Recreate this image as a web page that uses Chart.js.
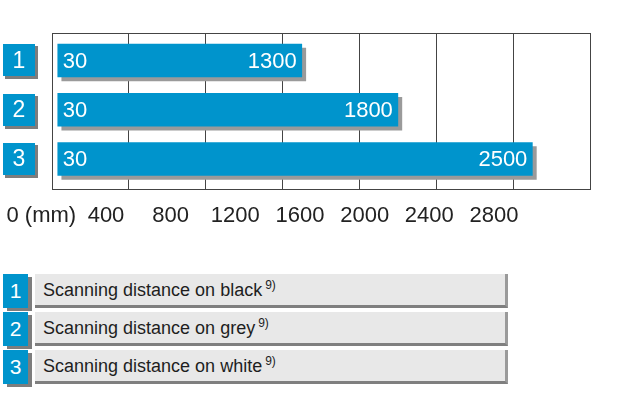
<!DOCTYPE html>
<html>
<head>
<meta charset="utf-8">
<script src="https://cdn.jsdelivr.net/npm/chart.js@4"></script>
<style>
  html, body { margin: 0; padding: 0; background: #fff; }
  body { width: 620px; height: 420px; position: relative; overflow: hidden; font-family: "Liberation Sans", Arial, sans-serif; }
  #wrap { position: absolute; left: 0; top: 0; width: 620px; height: 240px; }
  #c { display: block; }
  .lrow { position: absolute; left: 0; height: 34px; width: 510px; }
  .lbadge { position: absolute; left: 3px; top: 0; width: 25px; height: 34px; background: #0094cc; color: #fff;
            font-size: 21px; line-height: 34px; text-align: center; box-shadow: 4px 3px 0 #7d7d7d; }
  .lbox { position: absolute; left: 35px; top: 0; width: 462px; height: 31px; background: #e8e8e8;
          border-bottom: 3px solid #7f7f7f; border-right: 3px solid #9a9a9a; color: #1e1e1e;
          font-size: 18px; line-height: 33px; padding-left: 8px; box-sizing: content-box; }
  .lbox sup { font-size: 12px; vertical-align: 0; position: relative; top: -7px; margin-left: 3px; }
</style>
</head>
<body>
<div id="wrap"><canvas id="c" width="620" height="240"></canvas></div>
<div id="legend"></div>
<script>
// ---- data ----
const categories = ['1', '2', '3'];
const seriesNames = ['Scanning distance on black', 'Scanning distance on grey', 'Scanning distance on white'];
const footnote = '9)';
const starts = [30, 30, 30];
const ends = [1300, 1800, 2500];
const tickValues = [0, 400, 800, 1200, 1600, 2000, 2400, 2800];
const tickLabels = ['0 (mm)', '400', '800', '1200', '1600', '2000', '2400', '2800'];

const BLUE = '#0094cc';
const FONT = '"Liberation Sans", Arial, sans-serif';

// legend (HTML)
const legendTops = [274, 312, 350];
const lg = document.getElementById('legend');
categories.forEach((c, i) => {
  const row = document.createElement('div');
  row.className = 'lrow';
  row.style.top = legendTops[i] + 'px';
  const b = document.createElement('div'); b.className = 'lbadge'; b.textContent = c;
  const t = document.createElement('div'); t.className = 'lbox';
  t.appendChild(document.createTextNode(seriesNames[i]));
  const s = document.createElement('sup'); s.textContent = footnote; t.appendChild(s);
  row.appendChild(b); row.appendChild(t); lg.appendChild(row);
});

const decor = {
  id: 'decor',
  beforeDatasetsDraw(chart) {
    const {ctx, chartArea: a} = chart;
    ctx.save();
    ctx.strokeStyle = '#444';
    ctx.lineWidth = 1;
    ctx.strokeRect(Math.round(a.left) + 0.5, Math.round(a.top) + 0.5, Math.round(a.right - a.left), Math.round(a.bottom - a.top));
    ctx.restore();
    ctx.save();
    ctx.shadowColor = '#9a9a9a';
    ctx.shadowOffsetX = 4;
    ctx.shadowOffsetY = 4;
    ctx.shadowBlur = 0;
  },
  afterDatasetsDraw(chart) {
    const ctx = chart.ctx;
    ctx.restore();
    const meta = chart.getDatasetMeta(0);
    ctx.save();
    ctx.fillStyle = '#fff';
    ctx.font = '22px ' + FONT;
    ctx.textBaseline = 'middle';
    meta.data.forEach((el, i) => {
      const p = el.getProps(['x', 'y', 'base'], true);
      ctx.textAlign = 'left';
      ctx.fillText(String(starts[i]), p.base + 5, p.y + 1);
      ctx.textAlign = 'right';
      ctx.fillText(String(ends[i]), p.x - 5, p.y + 1);
    });
    ctx.restore();
  },
  afterDraw(chart) {
    const ctx = chart.ctx;
    const ys = chart.scales.y;
    ctx.save();
    categories.forEach((c, i) => {
      const y = ys.getPixelForValue(i);
      const top = Math.round(y - 16);
      ctx.fillStyle = '#7d7d7d';
      ctx.fillRect(5, top + 2, 33, 33);
      ctx.fillStyle = BLUE;
      ctx.fillRect(3, top, 32, 32);
      ctx.fillStyle = '#fff';
      ctx.font = '23px ' + FONT;
      ctx.textAlign = 'center';
      ctx.textBaseline = 'middle';
      ctx.fillText(c, 19, y + 1);
    });
    ctx.restore();
  }
};

new Chart(document.getElementById('c'), {
  type: 'bar',
  data: {
    datasets: [{
      data: categories.map((c, i) => ({x: [starts[i], ends[i]], y: i})),
      backgroundColor: BLUE,
      borderWidth: 0,
      barThickness: 33
    }]
  },
  options: {
    indexAxis: 'y',
    responsive: false,
    animation: false,
    events: [],
    layout: { padding: { left: 52, right: 30, top: 33, bottom: 6 } },
    plugins: { legend: { display: false }, tooltip: { enabled: false } },
    scales: {
      x: {
        type: 'linear', position: 'bottom', min: 0, max: 2800,
        ticks: { display: false, stepSize: 400 },
        grid: { color: '#444', lineWidth: 1, drawTicks: false },
        border: { display: false },
        afterFit: s => { s.height = 0; s.paddingLeft = 0; s.paddingRight = 0; }
      },
      x2: {
        type: 'linear', position: 'bottom', min: 66, max: 3394,
        afterBuildTicks: s => { s.ticks = tickValues.map(v => ({value: v})); },
        ticks: {
          padding: 6, color: '#222', font: { family: FONT, size: 22 },
          maxRotation: 0, autoSkip: false,
          callback: (v, i) => tickLabels[i]
        },
        grid: { display: false },
        border: { display: false },
        afterFit: s => { s.height = 45; s.paddingLeft = 0; s.paddingRight = 0; }
      },
      y: {
        type: 'linear', reverse: true, min: -0.558, max: 2.609, display: false,
        offset: false, grid: { offset: false }
      }
    }
  },
  plugins: [decor]
});
</script>
</body>
</html>
